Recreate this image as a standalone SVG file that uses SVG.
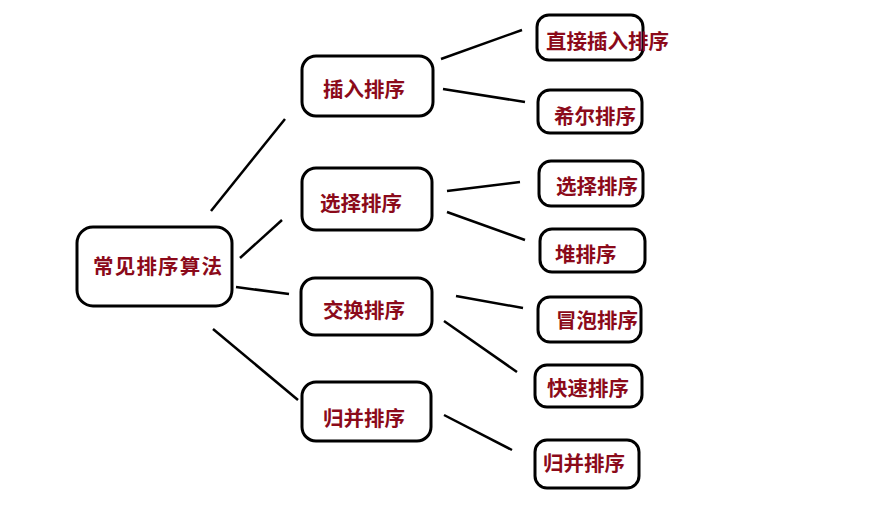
<svg xmlns="http://www.w3.org/2000/svg" width="887" height="516" viewBox="0 0 887 516">
<style>
.box{fill:#fff;stroke:#000;stroke-width:3}
.t{font-family:"Noto Sans CJK SC","Noto Sans",sans-serif;font-size:20.5px;font-weight:bold;fill:#8b0a1a;dominant-baseline:central}
.c line{stroke:#000;stroke-width:2.5}
</style>
<rect width="887" height="516" fill="#fff"/>
<g class="c" id="connectors">
<line x1="211" y1="211" x2="285" y2="119"/>
<line x1="240" y1="258" x2="282" y2="220"/>
<line x1="236" y1="287" x2="289" y2="294"/>
<line x1="213" y1="329" x2="298" y2="400"/>
<line x1="441" y1="59" x2="522" y2="30"/>
<line x1="443" y1="89" x2="525" y2="102"/>
<line x1="447" y1="191" x2="520" y2="182"/>
<line x1="447" y1="212" x2="525" y2="240"/>
<line x1="456" y1="296" x2="523" y2="308"/>
<line x1="444" y1="321" x2="517" y2="372"/>
<line x1="444" y1="415" x2="512" y2="450"/>
</g>
<g id="root"><rect class="box" x="77" y="227" width="155" height="79" rx="16"/><text class="t" x="93" y="265" textLength="129">常见排序算法</text></g>
<g id="insert"><rect class="box" x="302" y="56" width="131" height="60" rx="14"/><text class="t" x="323" y="88">插入排序</text></g>
<g id="select"><rect class="box" x="302" y="168" width="130" height="62" rx="14"/><text class="t" x="320" y="202">选择排序</text></g>
<g id="swap"><rect class="box" x="301" y="278" width="131" height="57" rx="14"/><text class="t" x="323" y="309">交换排序</text></g>
<g id="merge"><rect class="box" x="302" y="382" width="129" height="59" rx="14"/><text class="t" x="323" y="417">归并排序</text></g>
<g id="direct"><rect class="box" x="537" y="15" width="106" height="45" rx="12"/><text class="t" x="546" y="40">直接插入排序</text></g>
<g id="shell"><rect class="box" x="538" y="90" width="104" height="43" rx="12"/><text class="t" x="554" y="115">希尔排序</text></g>
<g id="selsort"><rect class="box" x="539" y="161" width="104" height="45" rx="12"/><text class="t" x="556" y="185">选择排序</text></g>
<g id="heap"><rect class="box" x="540" y="229" width="105" height="43" rx="12"/><text class="t" x="555" y="253">堆排序</text></g>
<g id="bubble"><rect class="box" x="538" y="297" width="103" height="45" rx="12"/><text class="t" x="556" y="319">冒泡排序</text></g>
<g id="quick"><rect class="box" x="535" y="365" width="107" height="42" rx="12"/><text class="t" x="547" y="387">快速排序</text></g>
<g id="mergesort"><rect class="box" x="535" y="440" width="104" height="48" rx="12"/><text class="t" x="543" y="462">归并排序</text></g>
</svg>
